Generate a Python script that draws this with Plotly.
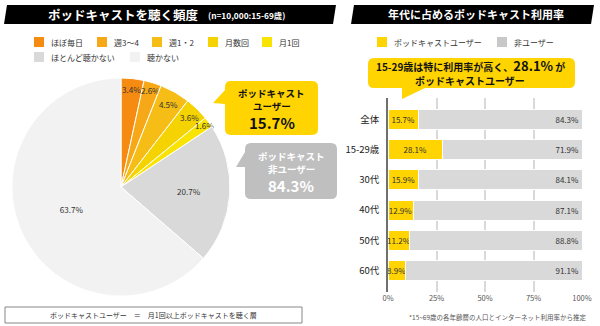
import plotly.graph_objects as go

# ---------------- data ----------------
freq_labels = ["ほぼ毎日", "週3～4", "週1・2", "月数回", "月1回", "ほとんど聴かない", "聴かない"]
freq_values = [3.4, 2.6, 4.5, 3.6, 1.6, 20.7, 63.7]
freq_colors = ["#F68B12", "#F6A816", "#F5BD15", "#F5D300", "#F9E300", "#D9D9D9", "#F2F2F2"]

user_total = 15.7
nonuser_total = 84.3

age_groups = ["全体", "15-29歳", "30代", "40代", "50代", "60代"]
user_rate = [15.7, 28.1, 15.9, 12.9, 11.2, 8.9]
nonuser_rate = [84.3, 71.9, 84.1, 87.1, 88.8, 91.1]

x_ticks = [0, 25, 50, 75, 100]
x_tick_labels = ["0%", "25%", "50%", "75%", "100%"]

JP = "Noto Sans CJK JP"
W, H = 600, 326
YEL = "#FFD400"
GRY = "#D9D9D9"


def px(x):
    return x / W


def py(y):
    return 1 - y / H


def path(points, close=True):
    s = "M " + " L ".join(f"{px(x):.5f},{py(y):.5f}" for x, y in points)
    return s + (" Z" if close else "")


def rounded_bubble(x0, y0, x1, y1, r, tail=None, side="left"):
    def P(x, y):
        return f"{px(x):.5f},{py(y):.5f}"
    s = f"M {P(x0 + r, y0)} L {P(x1 - r, y0)} Q {P(x1, y0)} {P(x1, y0 + r)} "
    s += f"L {P(x1, y1 - r)} Q {P(x1, y1)} {P(x1 - r, y1)} "
    if side == "bottom" and tail:
        s += f"L {P(*tail[2])} L {P(*tail[1])} L {P(*tail[0])} "
    s += f"L {P(x0 + r, y1)} Q {P(x0, y1)} {P(x0, y1 - r)} "
    if side == "left" and tail:
        s += f"L {P(*tail[2])} L {P(*tail[1])} L {P(*tail[0])} "
    s += f"L {P(x0, y0 + r)} Q {P(x0, y0)} {P(x0 + r, y0)} Z"
    return s


fig = go.Figure()

# ---------------- pie ----------------
fig.add_trace(go.Pie(
    labels=freq_labels,
    values=freq_values,
    text=[f"{v}%" for v in freq_values],
    textinfo="text",
    textposition="inside",
    insidetextorientation="horizontal",
    textfont=dict(family=JP, size=8.5, color="#333333"),
    marker=dict(colors=freq_colors, line=dict(color="white", width=1)),
    sort=False,
    direction="clockwise",
    rotation=0,
    showlegend=False,
    hoverinfo="label+percent",
    domain=dict(x=[px(12), px(230)], y=[py(297), py(77)]),
))

# ---------------- bars ----------------
fig.add_trace(go.Bar(
    y=age_groups, x=user_rate, orientation="h",
    marker=dict(color=YEL, line=dict(color="white", width=1)),
    text=[f"{v}%" for v in user_rate], textposition="inside",
    insidetextanchor="middle", textangle=0,
    textfont=dict(family=JP, size=8, color="#333333"),
    showlegend=False, name="ポッドキャストユーザー",
))
fig.add_trace(go.Bar(
    y=age_groups, x=nonuser_rate, orientation="h",
    marker=dict(color=GRY, line=dict(color="white", width=1)),
    text=[f"{v}%" for v in nonuser_rate], textposition="inside",
    insidetextanchor="end", textangle=0,
    textfont=dict(family=JP, size=8, color="#333333"),
    showlegend=False, name="非ユーザー",
))

fig.update_layout(
    barmode="stack",
    bargap=0.34,
    width=W, height=H,
    margin=dict(l=0, r=0, t=0, b=0, autoexpand=False),
    paper_bgcolor="white", plot_bgcolor="white",
    uniformtext=dict(minsize=8, mode="show"),
    font=dict(family=JP),
    xaxis=dict(domain=[px(388), px(582)], range=[0, 100], tickvals=x_ticks, ticktext=x_tick_labels,
               showgrid=True, gridcolor="#D9D9D9", gridwidth=1.5, zeroline=False, automargin=False,
               tickfont=dict(family=JP, size=7.5, color="#555555"), fixedrange=True),
    yaxis=dict(domain=[py(292), py(98)], range=[5.7, -0.7], showgrid=False, automargin=False,
               showline=True, linecolor="#707070", linewidth=1.5,
               tickfont=dict(family=JP, size=9.5, color="#222222"), ticklabelstandoff=5),
)

shapes = []
ann = []


def text_at(x, y, t, size, color="#333333", anchor="center"):
    ann.append(dict(x=px(x), y=py(y), xref="paper", yref="paper", showarrow=False,
                    text=t, font=dict(family=JP, size=size, color=color),
                    xanchor=anchor, yanchor="middle"))


# title banners
shapes.append(dict(type="path", xref="paper", yref="paper", layer="below",
                   path=path([(7, 5), (336, 5), (333, 24), (4, 24)]),
                   fillcolor="black", line=dict(width=0)))
shapes.append(dict(type="path", xref="paper", yref="paper", layer="below",
                   path=path([(354, 5), (594, 5), (591, 24), (351, 24)]),
                   fillcolor="black", line=dict(width=0)))
text_at(201, 14.5, "<b>ポッドキャストを聴く頻度</b>", 12.5, "white", anchor="right")
text_at(206, 15, "<b>(n=10,000:15-69歳)</b>", 8.3, "white", anchor="left")
text_at(476, 14.5, "<b>年代に占めるポッドキャスト利用率</b>", 11, "white")

# left legend
leg_pos = [(34, 42), (97, 42), (152, 42), (208, 42), (262, 42), (34, 57), (130, 57)]
for (lx, ly), lab, col in zip(leg_pos, freq_labels, freq_colors):
    shapes.append(dict(type="rect", xref="paper", yref="paper",
                       x0=px(lx), x1=px(lx + 10), y0=py(ly - 5), y1=py(ly + 5),
                       fillcolor=col, line=dict(width=0)))
    text_at(lx + 15, ly, lab, 8, anchor="left")

# right legend
for (lx, ly), lab, col in zip([(377, 42), (497, 42)], ["ポッドキャストユーザー", "非ユーザー"], [YEL, "#C8C8C8"]):
    shapes.append(dict(type="rect", xref="paper", yref="paper",
                       x0=px(lx), x1=px(lx + 10), y0=py(ly - 5), y1=py(ly + 5),
                       fillcolor=col, line=dict(width=0)))
    text_at(lx + 15, ly, lab, 8, anchor="left")

# pie callouts
shapes.append(dict(type="path", xref="paper", yref="paper",
                   path=rounded_bubble(225, 81, 318, 135, 6,
                                       tail=[(225, 90), (213, 103), (225, 104)], side="left"),
                   fillcolor=YEL, line=dict(width=0)))
shapes.append(dict(type="path", xref="paper", yref="paper",
                   path=rounded_bubble(245, 143, 337, 199, 6,
                                       tail=[(245, 152), (236, 167), (245, 167)], side="left"),
                   fillcolor="#BFBFBF", line=dict(width=0)))
text_at(271.5, 93, "<b>ポッドキャスト</b>", 9.5, "#111111")
text_at(271.5, 106, "<b>ユーザー</b>", 9.5, "#111111")
text_at(271.5, 122, f"<b>{user_total}%</b>", 15, "#111111")
text_at(291, 156, "<b>ポッドキャスト</b>", 9.5, "white")
text_at(291, 169, "<b>非ユーザー</b>", 9.5, "white")
text_at(291, 185, f"<b>{nonuser_total}%</b>", 15, "white")

# right callout
shapes.append(dict(type="path", xref="paper", yref="paper",
                   path=rounded_bubble(368, 58, 575, 88, 6,
                                       tail=[(402, 88), (402, 99), (425, 88)], side="bottom"),
                   fillcolor=YEL, line=dict(width=0)))
text_at(470, 66,
        f"<b>15-29歳は特に利用率が高く、<span style='font-size:13px'>{user_rate[1]}%</span> が</b>",
        10, "#111111")
text_at(470, 80, "<b>ポッドキャストユーザー</b>", 10, "#111111")

# bottom note box
shapes.append(dict(type="rect", xref="paper", yref="paper",
                   x0=px(5), x1=px(302), y0=py(323), y1=py(307),
                   fillcolor="white", line=dict(color="#888888", width=1)))
text_at(153, 315, "ポッドキャストユーザー　＝　月1回以上ポッドキャストを聴く層", 7)

# footnote
text_at(589, 317, "*15~69歳の各年齢層の人口とインターネット利用率から推定", 6.5, "#555555", anchor="right")

fig.update_layout(shapes=shapes, annotations=ann)
fig.write_html("out.html")
